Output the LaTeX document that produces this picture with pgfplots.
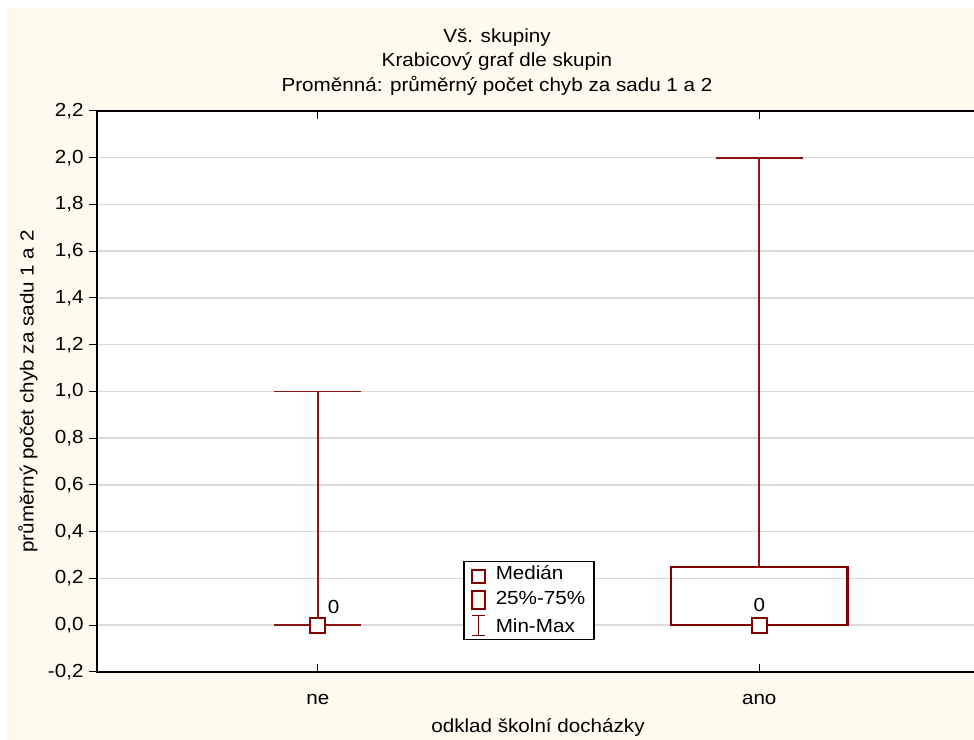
\documentclass[border=0pt]{standalone}
\usepackage{fontspec}
\setmainfont{Liberation Sans}[FakeStretch=1.09]
\usepackage{pgfplots}
\pgfplotsset{compat=1.18}
\definecolor{statred}{RGB}{128,0,0}
\definecolor{whred}{RGB}{140,20,20}
\definecolor{cream}{RGB}{255,250,238}
\definecolor{gridgray}{RGB}{218,218,218}
\begin{document}
\fontsize{19}{25}\selectfont
\begin{tikzpicture}[x=1bp,y=1bp]
\fill[white] (0,0) rectangle (974,740);
\fill[cream] (7,0) rectangle (974,732);
\begin{axis}[
  at={(97bp,68bp)}, anchor=south west,
  scale only axis, width=883bp, height=561bp,
  xmin=-0.5, xmax=1.5, ymin=-0.2, ymax=2.2,
  xtick={0,1}, xticklabels={ne,ano},
  ytick={-0.2,0,0.2,0.4,0.6,0.8,1.0,1.2,1.4,1.6,1.8,2.0,2.2},
  yticklabels={{-0,2},{0,0},{0,2},{0,4},{0,6},{0,8},{1,0},{1,2},{1,4},{1,6},{1,8},{2,0},{2,2}},
  ytick pos=left, xtick pos=both,
  major tick length=8bp,
  y tick style={xshift=-8bp, black, line width=1bp},
  x tick style={black, line width=1bp},
  yticklabel style={xshift=-7bp},
  xticklabel style={yshift=-16bp},
  ymajorgrids, grid style={gridgray, line width=1.5bp},
  axis line style={black, line width=1.8bp},
  axis background/.style={fill=white},
  clip=false,
  legend style={at={(rel axis cs:0.4145,0.1979)}, anchor=north west,
    draw=black, line width=1.5bp, fill=white, inner xsep=7bp, inner ysep=2bp,
    row sep=5bp, cells={anchor=west},
    /tikz/every odd column/.append style={column sep=8bp}},
]
% --- ne: min-max whisker
\addplot[forget plot, whred, line width=1.8bp] coordinates {(0,0) (0,1)};
\addplot[forget plot, whred, line width=1.8bp] coordinates {(-0.098,1) (0.098,1)};
\addplot[forget plot, whred, line width=1.8bp] coordinates {(-0.098,0) (0.098,0)};
% --- ano: min-max whisker
\addplot[forget plot, whred, line width=1.8bp] coordinates {(1,0.25) (1,2)};
\addplot[forget plot, whred, line width=1.8bp] coordinates {(0.902,2) (1.098,2)};
\addplot[forget plot, whred!70, line width=1.8bp] coordinates {(0.902,0) (1.098,0)};
% --- ano: 25%-75% box
\addplot[forget plot, statred, line width=2.5bp, line join=miter] coordinates {(0.8,0) (1.2,0) (1.2,0.25) (0.8,0.25) (0.8,0)} -- cycle;
% --- medians
\addplot[forget plot, only marks, mark=square*, mark size=7.5bp,
  mark options={fill=white, draw=statred, line width=2.2bp}] coordinates {(0,0) (1,0)};
\node at (axis cs:0.036,0.079) {0};
\node at (axis cs:1.0,0.088) {0};
% --- legend
\addlegendimage{legend image code/.code={\draw[statred, line width=1.6bp, fill=white] (0bp,-9bp) rectangle (13bp,4bp);}}
\addlegendentry{Medián}
\addlegendimage{legend image code/.code={\draw[statred, line width=2bp, fill=cream] (0bp,-9bp) rectangle (13bp,9bp);}}
\addlegendentry{25\%-75\%}
\addlegendimage{legend image code/.code={\draw[statred, line width=1.2bp] (0bp,-8bp) -- (13bp,-8bp) (6.5bp,-8bp) -- (6.5bp,12bp) (0bp,12bp) -- (13bp,12bp);}}
\addlegendentry{Min-Max}
\end{axis}
\node[align=center] at (497,678) {Vš. skupiny\\Krabicový graf dle skupin\\Proměnná: průměrný počet chyb za sadu 1 a 2};
\node[anchor=base] at (538,7) {odklad školní docházky};
\node[rotate=90] at (28,348.5) {průměrný počet chyb za sadu 1 a 2};
\pgfresetboundingbox
\useasboundingbox (0,0) rectangle (974,740);
\end{tikzpicture}
\end{document}
